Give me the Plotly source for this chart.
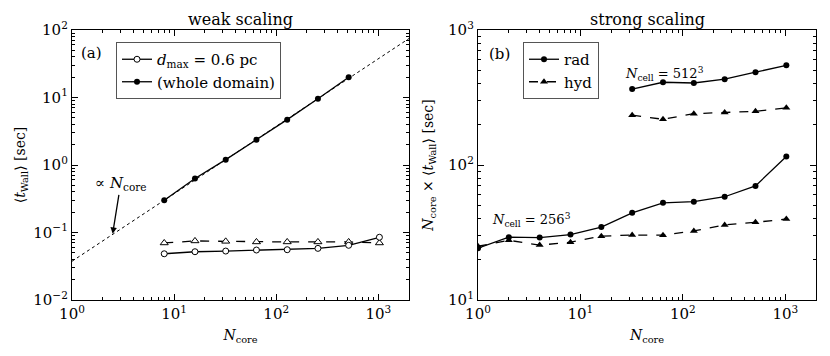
import plotly.graph_objects as go

# weak scaling (panel a)
n_weak = [8, 16, 32, 64, 128, 256, 512, 1024]
t_dmax = [0.0484, 0.0519, 0.0531, 0.055, 0.0556, 0.0582, 0.0646, 0.085]
t_dmax_hyd = [0.070, 0.075, 0.074, 0.0725, 0.0725, 0.0725, 0.0725, 0.070]
n_whole = [8, 16, 32, 64, 128, 256, 512]
t_whole = [0.30, 0.63, 1.2, 2.36, 4.7, 9.6, 20.0]
ref_n = [1, 2000]
ref_t = [0.0375, 75.0]

# strong scaling (panel b)
n_256 = [1, 2, 4, 8, 16, 32, 64, 128, 256, 512, 1024]
rad_256 = [24.2, 29.2, 29.0, 30.5, 34.7, 44.2, 52.5, 53.5, 58.2, 70.0, 115.6]
hyd_256 = [25.0, 27.7, 25.5, 26.8, 29.7, 30.3, 30.2, 32.5, 36.0, 37.6, 39.8]
n_512 = [32, 64, 128, 256, 512, 1024]
rad_512 = [365, 410, 405, 432, 487, 547]
hyd_512 = [234, 218, 240, 245, 250, 265]

FONT = "DejaVu Serif"
LW = 1.3
MS = 6

# page body has an 8px margin, so the figure is drawn a bit smaller
W, H, OFF = 822, 348, 8


def px(x):
    return (x - OFF) / W


def py(y):
    return 1 - (y - OFF) / H


fig = go.Figure()

# panel a
fig.add_trace(go.Scatter(x=ref_n, y=ref_t, mode="lines", line=dict(color="black", width=1, dash="dot"),
                         showlegend=False, xaxis="x", yaxis="y"))
fig.add_trace(go.Scatter(x=n_weak, y=t_dmax_hyd, mode="lines+markers",
                         line=dict(color="black", width=LW, dash="dash"),
                         marker=dict(symbol="triangle-up", size=MS + 1, color="white", line=dict(color="black", width=1)),
                         showlegend=False, xaxis="x", yaxis="y"))
fig.add_trace(go.Scatter(x=n_weak, y=t_dmax, mode="lines+markers", name="<i>d</i><sub>max</sub> = 0.6 pc",
                         line=dict(color="black", width=LW),
                         marker=dict(symbol="circle", size=MS, color="white", line=dict(color="black", width=1)),
                         legend="legend", xaxis="x", yaxis="y"))
fig.add_trace(go.Scatter(x=n_whole, y=t_whole, mode="lines+markers", name="(whole domain)",
                         line=dict(color="black", width=LW),
                         marker=dict(symbol="circle", size=MS, color="black"),
                         legend="legend", xaxis="x", yaxis="y"))

# panel b
fig.add_trace(go.Scatter(x=n_512, y=rad_512, mode="lines+markers", name="rad",
                         line=dict(color="black", width=LW),
                         marker=dict(symbol="circle", size=MS, color="black"),
                         legend="legend2", xaxis="x2", yaxis="y2"))
fig.add_trace(go.Scatter(x=n_512, y=hyd_512, mode="lines+markers", name="hyd",
                         line=dict(color="black", width=LW, dash="dash"),
                         marker=dict(symbol="triangle-up", size=MS + 1, color="black"),
                         legend="legend2", xaxis="x2", yaxis="y2"))
fig.add_trace(go.Scatter(x=n_256, y=rad_256, mode="lines+markers",
                         line=dict(color="black", width=LW),
                         marker=dict(symbol="circle", size=MS, color="black"),
                         showlegend=False, xaxis="x2", yaxis="y2"))
fig.add_trace(go.Scatter(x=n_256, y=hyd_256, mode="lines+markers",
                         line=dict(color="black", width=LW, dash="dash"),
                         marker=dict(symbol="triangle-up", size=MS + 1, color="black"),
                         showlegend=False, xaxis="x2", yaxis="y2"))


def minor_vals(lo, hi):
    return [m * 10 ** e for e in range(lo, hi) for m in range(2, 10)]


def log_axis(lo, hi, rng, domain, anchor, title=None, standoff=None):
    ax = dict(
        type="log", range=rng, domain=domain, anchor=anchor, automargin=False,
        tickmode="array", tickvals=[10 ** e for e in range(lo, hi + 1)],
        ticktext=["10<sup>%s</sup>" % ("\u2212%d" % -e if e < 0 else e) for e in range(lo, hi + 1)],
        ticks="inside", ticklen=6, tickwidth=1, tickcolor="black",
        minor=dict(tickmode="array", tickvals=minor_vals(lo, hi + 1), ticks="inside", ticklen=3,
                   tickwidth=1, tickcolor="black"),
        showline=True, linecolor="black", linewidth=1.3, mirror="allticks",
        showgrid=False, zeroline=False,
        tickfont=dict(family=FONT, size=15, color="black"),
    )
    if title:
        ax["title"] = dict(text=title, font=dict(family=FONT, size=14, color="black"), standoff=standoff)
    return ax


fig.update_layout(
    template="none",
    width=W, height=H,
    margin=dict(l=0, r=0, t=0, b=0),
    plot_bgcolor="white", paper_bgcolor="white",
    font=dict(family=FONT, color="black", size=14),
    xaxis=log_axis(0, 3, [0, 3.3], [px(72), px(409)], "y", "<i>N</i><sub>core</sub>", 8),
    yaxis=log_axis(-2, 2, [-2, 2], [py(300), py(30)], "x",
                   "\u27e8<i>t</i><sub>Wall</sub>\u27e9 [sec]", 4),
    xaxis2=log_axis(0, 3, [0, 3.3], [px(478), px(816)], "y2", "<i>N</i><sub>core</sub>", 8),
    yaxis2=log_axis(1, 3, [1, 3], [py(300), py(30)], "x2",
                    "<i>N</i><sub>core</sub> \u00d7 \u27e8<i>t</i><sub>Wall</sub>\u27e9 [sec]", 11),
    legend=dict(x=px(116), y=py(42), xanchor="left", yanchor="top", bgcolor="white",
                bordercolor="#555", borderwidth=1, font=dict(family=FONT, size=15), tracegroupgap=0),
    legend2=dict(x=px(523), y=py(42), xanchor="left", yanchor="top", bgcolor="white",
                 bordercolor="#555", borderwidth=1, font=dict(family=FONT, size=15), tracegroupgap=0),
)

annos = [
    dict(text="weak scaling", x=px(240), y=py(20), font=dict(size=16)),
    dict(text="strong scaling", x=px(647), y=py(20), font=dict(size=16)),
    dict(text="(a)", x=px(91), y=py(53), font=dict(size=15)),
    dict(text="(b)", x=px(499), y=py(54), font=dict(size=15)),
    dict(text="<i>N</i><sub>cell</sub> = 512<sup>3</sup>", x=px(664), y=py(74), font=dict(size=13)),
    dict(text="<i>N</i><sub>cell</sub> = 256<sup>3</sup>", x=px(531), y=py(220), font=dict(size=13)),
]
for a in annos:
    fig.add_annotation(xref="paper", yref="paper", xanchor="center", yanchor="middle",
                       showarrow=False, **a)

fig.add_annotation(text="\u221d <i>N</i><sub>core</sub>", x=0.398, y=-1.02, xref="x", yref="y",
                   showarrow=True, arrowhead=2, arrowsize=1, arrowwidth=1.3, arrowcolor="black",
                   ax=8, ay=-50, font=dict(size=15))

fig.write_html("out.html")
